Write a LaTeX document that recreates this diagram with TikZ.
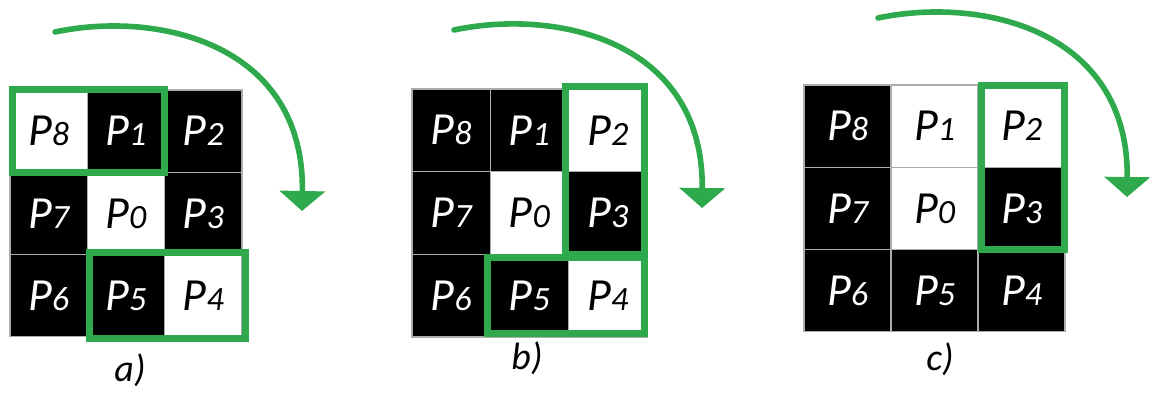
\documentclass[tikz,border=0pt]{standalone}
\usepackage{fontspec}
\setmainfont{Carlito}
\usetikzlibrary{arrows.meta}
\definecolor{gr}{RGB}{46,170,76}
\newcommand\pp[1]{{\fontsize{23}{23}\selectfont P}{\fontsize{17}{17}\selectfont #1}}
\tikzset{
  blk/.style={fill=black, draw=gray!65, line width=0.6pt, text=white, inner sep=0pt, font=\itshape},
  wht/.style={fill=white, draw=gray!65, line width=0.6pt, text=black, inner sep=0pt, font=\itshape},
  gbox/.style={draw=gr, line width=3.5pt},
  turn/.style={draw=gr, line width=2.8pt, line cap=round, -{Triangle[width=22.5pt,length=10pt]}},
  lbl/.style={font=\itshape\fontsize{19}{19}\selectfont, inner sep=0pt}
}
\begin{document}
\begin{tikzpicture}[x=0.5pt,y=-0.5pt]
\useasboundingbox (0,0) rectangle (1152,394);
% grid a
\foreach \d/\s [count=\i from 0] in {8/wht,1/blk,2/blk,7/blk,0/wht,3/blk,6/blk,5/blk,4/wht}{
  \pgfmathtruncatemacro\c{mod(\i,3)}\pgfmathtruncatemacro\r{div(\i,3)}
  \node[\s, minimum width=38.65pt, minimum height=41.15pt] (a\d) at ({10+77.3*(\c+0.5)},{90+82.3*(\r+0.5)}) {\pp{\d}};
}
% grid b
\foreach \d/\s [count=\i from 0] in {8/blk,1/blk,2/wht,7/blk,0/wht,3/blk,6/blk,5/blk,4/wht}{
  \pgfmathtruncatemacro\c{mod(\i,3)}\pgfmathtruncatemacro\r{div(\i,3)}
  \node[\s, minimum width=39.15pt, minimum height=41.35pt] (b\d) at ({412+78.3*(\c+0.5)},{89+82.7*(\r+0.5)}) {\pp{\d}};
}
% grid c
\foreach \d/\s [count=\i from 0] in {8/blk,1/wht,2/wht,7/blk,0/wht,3/blk,6/blk,5/blk,4/blk}{
  \pgfmathtruncatemacro\c{mod(\i,3)}\pgfmathtruncatemacro\r{div(\i,3)}
  \node[\s, minimum width=43.5pt, minimum height=41.15pt] (c\d) at ({804+87*(\c+0.5)},{85+82.3*(\r+0.5)}) {\pp{\d}};
}
% green frames
\draw[gbox] (12.5,89.5) rectangle (164.5,172.5);
\draw[gbox] (89.5,252.5) rectangle (245,338.5);
\draw[gbox] (565.7,86.7) rectangle (644,255);
\draw[gbox] (487,258) rectangle (644,334);
\draw[gbox] (981.7,86) rectangle (1064,249.3);
% rotation arrows
\coordinate (sa) at (55,32);   \coordinate (ea) at (302,211);
\coordinate (sb) at (454,30);  \coordinate (eb) at (702,208);
\coordinate (sc) at (878,18);  \coordinate (ec) at (1127,197);
\draw[turn] (sa) .. controls (160,10) and (305,45) .. (ea);
\draw[turn] (sb) .. controls (559,8) and (704,42) .. (eb);
\draw[turn] (sc) .. controls (983,-4) and (1129,31) .. (ec);
% labels
\node[lbl] (la) at (130,370) {a)};
\node[lbl] (lb) at (527,358) {b)};
\node[lbl] (lc) at (940,359) {c)};
\end{tikzpicture}
\end{document}
